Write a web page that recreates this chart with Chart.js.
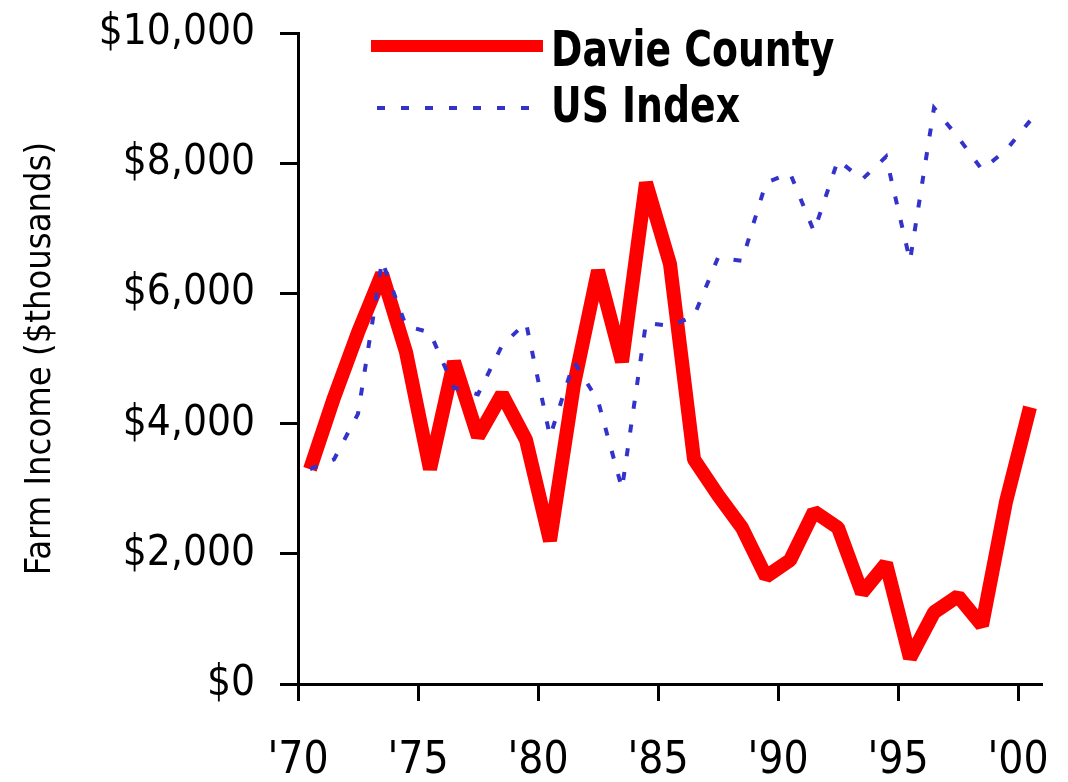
<!DOCTYPE html>
<html>
<head>
<meta charset="utf-8">
<script src="https://cdn.jsdelivr.net/npm/chart.js@4.4.1/dist/chart.umd.min.js"></script>
<style>
  html, body { margin: 0; padding: 0; background: #ffffff; }
  #wrap { width: 1068px; height: 782px; position: relative; }
</style>
</head>
<body>
<div id="wrap"><canvas id="c"></canvas></div>
<script>
const years = [1970,1971,1972,1973,1974,1975,1976,1977,1978,1979,1980,1981,1982,1983,1984,1985,1986,1987,1988,1989,1990,1991,1992,1993,1994,1995,1996,1997,1998,1999,2000];
const davieCounty = [3300,4400,5400,6300,5100,3300,4950,3800,4450,3750,2200,4600,6350,4950,7700,6450,3450,2900,2400,1650,1900,2650,2400,1400,1850,400,1100,1350,900,2800,4250];
const usIndex = [3300,3450,4150,6500,5500,5400,4550,4450,5200,5550,3800,4950,4350,3000,5550,5500,5650,6550,6500,7700,7850,6950,8050,7750,8100,6500,8850,8400,7900,8200,8650];
const xTickYears = [1970,1975,1980,1985,1990,1995,2000];
const yTicks = [0,2000,4000,6000,8000,10000];
const seriesNames = ['Davie County','US Index'];

const COND = '"DejaVu Sans Condensed", "Liberation Sans Narrow", sans-serif';
const RED = '#ff0000';
const BLUE = '#3333cc';

// each value sits in the middle of its year
const toPoints = arr => arr.map((v, i) => ({ x: years[i] + 0.5, y: v }));

const legendPlugin = {
  id: 'customLegend',
  afterDraw(chart) {
    const ctx = chart.ctx;
    ctx.save();
    ctx.strokeStyle = RED;
    ctx.lineWidth = 12;
    ctx.setLineDash([]);
    ctx.beginPath();
    ctx.moveTo(371, 46);
    ctx.lineTo(543, 46);
    ctx.stroke();
    ctx.strokeStyle = BLUE;
    ctx.lineWidth = 4;
    ctx.setLineDash([8, 16]);
    ctx.beginPath();
    ctx.moveTo(377, 108);
    ctx.lineTo(537, 108);
    ctx.stroke();
    ctx.setLineDash([]);
    ctx.fillStyle = '#000000';
    ctx.font = 'bold 50px ' + COND;
    ctx.textAlign = 'left';
    ctx.textBaseline = 'alphabetic';
    [[seriesNames[0], 66], [seriesNames[1], 122]].forEach(([t, y]) => {
      ctx.save();
      ctx.translate(551, y);
      ctx.scale(0.84, 1);
      ctx.fillText(t, 0, 0);
      ctx.restore();
    });
    ctx.restore();
  }
};

new Chart(document.getElementById('c'), {
  type: 'line',
  data: {
    datasets: [
      {
        label: seriesNames[0],
        data: toPoints(davieCounty),
        borderColor: RED,
        backgroundColor: RED,
        borderWidth: 14,
        pointRadius: 0,
        borderJoinStyle: 'bevel',
        tension: 0,
        order: 2
      },
      {
        label: seriesNames[1],
        data: toPoints(usIndex),
        borderColor: BLUE,
        backgroundColor: BLUE,
        borderWidth: 4,
        borderDash: [8, 16],
        pointRadius: 0,
        tension: 0,
        order: 1
      }
    ]
  },
  options: {
    responsive: true,
    maintainAspectRatio: false,
    animation: false,
    layout: { padding: { top: 33, right: 26, bottom: 0, left: 0 } },
    plugins: {
      legend: { display: false },
      tooltip: { enabled: false }
    },
    scales: {
      x: {
        type: 'linear',
        min: 1970,
        max: 2001,
        afterFit(scale) { scale.height = 98; scale.paddingLeft = 0; scale.paddingRight = 0; },
        afterBuildTicks(scale) { scale.ticks = xTickYears.map(v => ({ value: v })); },
        border: { display: true, color: '#000000', width: 3 },
        grid: {
          display: true,
          drawOnChartArea: false,
          drawTicks: true,
          tickLength: 17,
          tickColor: '#000000',
          tickWidth: 3
        },
        ticks: {
          includeBounds: false,
          autoSkip: false,
          maxRotation: 0,
          padding: 34,
          color: '#000000',
          font: { family: COND, size: 44 },
          callback: v => "'" + String(v).slice(2)
        }
      },
      y: {
        type: 'linear',
        min: 0,
        max: 10000,
        afterFit(scale) { scale.width = 298; scale.paddingTop = 0; scale.paddingBottom = 0; },
        afterBuildTicks(scale) { scale.ticks = yTicks.map(v => ({ value: v })); },
        border: { display: true, color: '#000000', width: 3 },
        grid: {
          display: true,
          drawOnChartArea: false,
          drawTicks: true,
          tickLength: 18,
          tickColor: '#000000',
          tickWidth: 3
        },
        ticks: {
          padding: 25,
          color: '#000000',
          font: { family: COND, size: 42 },
          callback: v => '$' + Number(v).toLocaleString('en-US')
        },
        title: {
          display: true,
          text: 'Farm Income ($thousands)',
          color: '#000000',
          font: { family: COND, size: 36 },
          padding: { top: 19, bottom: 0 }
        }
      }
    }
  },
  plugins: [legendPlugin]
});
</script>
</body>
</html>
